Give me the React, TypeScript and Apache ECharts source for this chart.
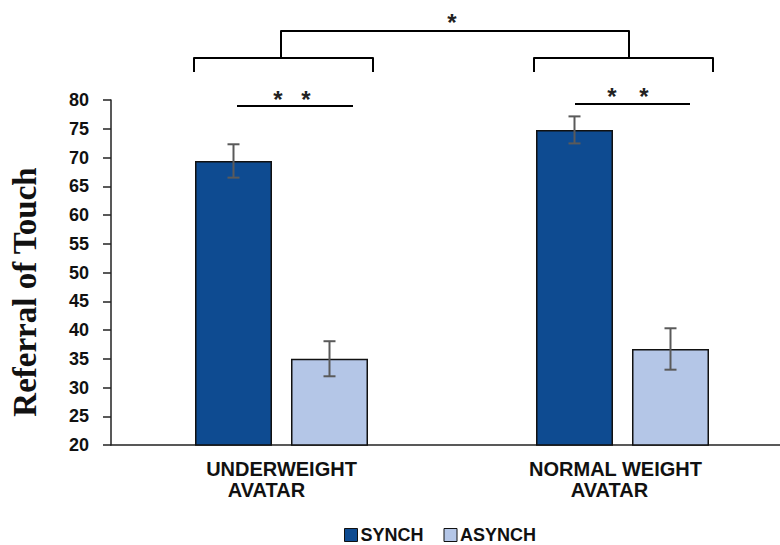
import React, { useEffect, useRef } from "react";
import * as echarts from "echarts";

const categories = ["UNDERWEIGHT AVATAR", "NORMAL WEIGHT AVATAR"];
const seriesNames = ["SYNCH", "ASYNCH"];
const synchValues = [69.4, 74.8];
const asynchValues = [35.0, 36.7];
const synchErrors = [2.9, 2.35];
const asynchErrors = [3.05, 3.6];
const yTicks = { min: 20, max: 80, interval: 5 };

const BAR_W = 77;
const BAR_GAP_PX = 19;

export default function App() {
  const ref = useRef<HTMLDivElement>(null);
  useEffect(() => {
    if (!ref.current) return;
    const chart = echarts.init(ref.current, undefined, { renderer: "svg" });
    const offset = (BAR_W + BAR_GAP_PX) / 2;

    const errSeries = (name: string, vals: number[], errs: number[], dir: number) => ({
      type: "custom",
      name: name + "-err",
      z: 5,
      silent: true,
      clip: false,
      encode: { x: 0, y: 1 },
      data: vals.map((v, i) => [i, v, errs[i]]),
      renderItem: (params: any, api: any) => {
        const ci = api.value(0);
        const v = api.value(1);
        const e = api.value(2);
        const top = api.coord([ci, v + e]);
        const bot = api.coord([ci, v - e]);
        const x = top[0] + dir * offset;
        const cap = 6;
        const style = { stroke: "#5a5a5a", lineWidth: 2 };
        return {
          type: "group",
          children: [
            { type: "line", shape: { x1: x, y1: top[1], x2: x, y2: bot[1] }, style },
            { type: "line", shape: { x1: x - cap, y1: top[1], x2: x + cap, y2: top[1] }, style },
            { type: "line", shape: { x1: x - cap, y1: bot[1], x2: x + cap, y2: bot[1] }, style },
          ],
        };
      },
    });

    const lineStyle = { stroke: "#000", lineWidth: 2, fill: "none", lineJoin: "round" };
    const star = (x: number, y: number) => ({
      type: "text",
      x,
      y: y + 5,
      style: {
        text: "*",
        fontSize: 24,
        fontWeight: "bold",
        fontFamily: "Liberation Sans, Arial",
        fill: "#222",
        align: "center",
        verticalAlign: "middle",
      },
    });

    chart.setOption({
      animation: false,
      backgroundColor: "#fff",
      grid: { left: 111, width: 682, top: 100, bottom: 100, containLabel: false, outerBoundsMode: "none" },
      legend: {
        data: seriesNames,
        left: 344,
        top: 526,
        padding: 0,
        itemWidth: 13,
        itemHeight: 13,
        itemGap: 20,
        icon: "rect",
        itemStyle: { borderColor: "#111", borderWidth: 1 },
        textStyle: { fontSize: 18, fontWeight: "bold", fontFamily: "Liberation Sans, Arial", color: "#111", padding: [0, 0, 0, -2] },
      },
      xAxis: {
        type: "category",
        data: categories,
        axisLine: { lineStyle: { color: "#222", width: 1.5 } },
        axisTick: { show: false },
        axisLabel: {
          margin: 13,
          interval: 0,
          formatter: (v: string, i: number) => {
            const parts = v.split(" AVATAR");
            return i === 0 ? `{a|${parts[0]}}\n{b|AVATAR}` : `{c|${parts[0]}}\n{d|AVATAR}`;
          },
          rich: {
            a: { fontSize: 20, fontWeight: "bold", fontFamily: "Liberation Sans, Arial", color: "#111", lineHeight: 21 },
            b: { fontSize: 20, fontWeight: "bold", fontFamily: "Liberation Sans, Arial", color: "#111", lineHeight: 21, padding: [0, 30, 0, 0] },
            c: { fontSize: 20, fontWeight: "bold", fontFamily: "Liberation Sans, Arial", color: "#111", lineHeight: 21, padding: [0, 14, 0, 0] },
            d: { fontSize: 20, fontWeight: "bold", fontFamily: "Liberation Sans, Arial", color: "#111", lineHeight: 21, padding: [0, 26, 0, 0] },
          },
        },
      },
      yAxis: {
        type: "value",
        min: yTicks.min,
        max: yTicks.max,
        interval: yTicks.interval,
        splitLine: { show: false },
        axisLine: { show: true, lineStyle: { color: "#222", width: 1.5 } },
        axisTick: { show: true, length: 8, lineStyle: { color: "#222", width: 1.5 } },
        axisLabel: { margin: 22, fontSize: 18, fontWeight: "bold", fontFamily: "Liberation Sans, Arial", color: "#111" },
      },
      series: [
        {
          type: "bar",
          name: seriesNames[0],
          data: synchValues,
          barWidth: BAR_W,
          barGap: (BAR_GAP_PX / BAR_W) * 100 + "%",
          itemStyle: { color: "#0e4b91", borderColor: "#111", borderWidth: 1.5 },
        },
        {
          type: "bar",
          name: seriesNames[1],
          data: asynchValues,
          barWidth: BAR_W,
          barGap: (BAR_GAP_PX / BAR_W) * 100 + "%",
          itemStyle: { color: "#b4c6e7", borderColor: "#111", borderWidth: 1.5 },
        },
        errSeries("SYNCH", synchValues, synchErrors, -1),
        errSeries("ASYNCH", asynchValues, asynchErrors, 1),
      ],
      graphic: [
        {
          type: "text",
          x: 25,
          y: 292,
          rotation: Math.PI / 2,
          style: {
            text: "Referral of Touch",
            fontSize: 33,
            fontWeight: "bold",
            fontFamily: "Liberation Serif, Times New Roman",
            fill: "#111",
            align: "center",
            verticalAlign: "middle",
          },
        },
        { type: "polyline", shape: { points: [[194, 72], [194, 58], [373, 58], [373, 72]] }, style: lineStyle },
        { type: "polyline", shape: { points: [[281, 58], [281, 31], [629, 31], [629, 58]] }, style: lineStyle },
        { type: "polyline", shape: { points: [[534, 72], [534, 58], [713, 58], [713, 72]] }, style: lineStyle },
        { type: "line", shape: { x1: 237, y1: 106, x2: 353, y2: 106 }, style: { stroke: "#000", lineWidth: 2 } },
        { type: "line", shape: { x1: 575, y1: 104, x2: 690, y2: 104 }, style: { stroke: "#000", lineWidth: 2 } },
        star(452, 17),
        star(278, 94),
        star(306, 94),
        star(612, 91),
        star(644, 91),
      ],
    });
    return () => chart.dispose();
  }, []);
  return <div ref={ref} style={{ position: "fixed", left: 0, top: 0, width: 780, height: 545 }} />;
}
